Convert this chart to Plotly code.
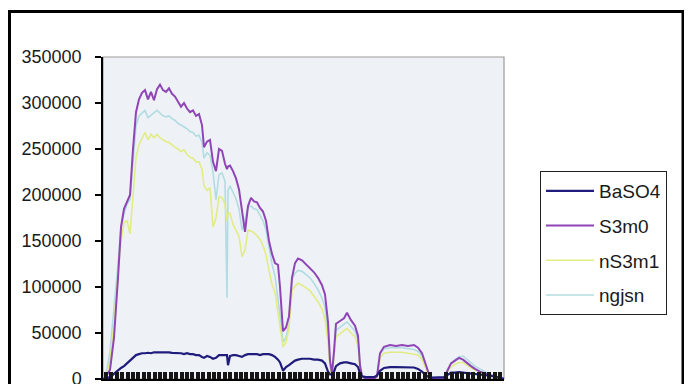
import plotly.graph_objects as go

# wavelength-like category positions (x data)
wavelength = [350, 365, 385, 405, 425, 440, 455, 470, 485, 500, 515, 530, 545, 560, 575, 590, 605, 620, 635, 650,
              665, 680, 695, 710, 725, 740, 755, 770, 785, 800, 815, 830, 845, 855, 870, 885, 900, 915, 930, 945,
              960, 970, 975, 985, 1000, 1015, 1030, 1045, 1060, 1075, 1090, 1105, 1120, 1135, 1150, 1165, 1180, 1195, 1210, 1225,
              1235, 1250, 1265, 1280, 1295, 1310, 1325, 1345, 1365, 1385, 1405, 1425, 1445, 1460, 1475, 1485, 1495, 1505, 1515, 1535,
              1555, 1570, 1590, 1610, 1625, 1635, 1645, 1665, 1685, 1705, 1720, 1735, 1755, 1785, 1815, 1845, 1875, 1905, 1925, 1945,
              1965, 1980, 1995, 2015, 2035, 2055, 2070, 2090, 2110, 2130, 2150, 2170, 2190, 2210, 2235, 2260, 2285, 2310, 2335, 2355]

baso4 = [0, 500, 2000, 6000, 9000, 12000, 14000, 17000, 20000, 23000, 26000, 27000, 28000, 28000, 28500, 28000, 29000, 29000, 29000, 29500,
         29000, 29000, 28500, 28500, 28000, 28000, 27000, 28000, 27000, 27000, 26000, 26000, 24000, 23000, 25000, 24000, 22000, 23000, 26000, 26000,
         26000, 26000, 15000, 25000, 26000, 26000, 25000, 24000, 26000, 27000, 27000, 27000, 27000, 26000, 27000, 27000, 27000, 26000, 24000, 21000,
         18000, 9000, 13000, 15000, 18000, 20000, 21000, 22000, 22000, 22000, 21000, 21000, 20000, 17000, 8000, 5000, 5000, 8000, 14000, 17000,
         18000, 18000, 17000, 16000, 13000, 6000, 3000, 2000, 2000, 2000, 4000, 9000, 12000, 13000, 13000, 13000, 13000, 12500, 11000, 8000,
         4000, 2000, 1500, 1500, 1500, 2000, 4000, 7000, 7000, 7500, 7000, 6500, 6000, 6000, 5000, 4000, 3500, 2500, 1500, 0]

s3m0 = [0, 3000, 10000, 45000, 110000, 165000, 185000, 192000, 200000, 250000, 290000, 304000, 311000, 314000, 304000, 312000, 303000, 315000, 320000, 314000,
        312000, 316000, 310000, 307000, 302000, 296000, 300000, 294000, 290000, 292000, 286000, 288000, 276000, 252000, 258000, 260000, 236000, 226000, 250000, 248000,
        234000, 228000, 231000, 232000, 226000, 218000, 206000, 184000, 160000, 188000, 197000, 193000, 192000, 186000, 182000, 172000, 150000, 136000, 126000, 124000,
        100000, 52000, 56000, 68000, 110000, 126000, 131000, 129000, 125000, 121000, 116000, 110000, 102000, 92000, 62000, 20000, 6000, 30000, 60000, 63000,
        66000, 72000, 64000, 58000, 47000, 15000, 3000, 0, 0, 0, 3000, 28000, 35000, 37000, 36000, 37000, 36000, 37000, 34000, 28000,
        15000, 5000, 1000, 0, 0, 1000, 8000, 17000, 20000, 23000, 21000, 17000, 14000, 11000, 8000, 6000, 4000, 2500, 1000, 0]

ns3m1 = [0, 3000, 20000, 60000, 115000, 150000, 170000, 172000, 158000, 200000, 240000, 255000, 262000, 268000, 260000, 266000, 262000, 266000, 262000, 260000,
         258000, 257000, 254000, 252000, 250000, 247000, 249000, 244000, 241000, 240000, 236000, 236000, 228000, 210000, 205000, 208000, 165000, 175000, 198000, 197000,
         190000, 172000, 180000, 180000, 168000, 162000, 155000, 133000, 140000, 162000, 161000, 159000, 156000, 152000, 145000, 135000, 118000, 103000, 94000, 70000,
         55000, 35000, 40000, 55000, 96000, 101000, 104000, 102000, 99000, 96000, 90000, 84000, 76000, 65000, 40000, 12000, 4000, 25000, 46000, 49000,
         52000, 55000, 50000, 46000, 36000, 11000, 2000, 0, 0, 0, 2000, 23000, 28000, 29000, 29000, 29000, 28000, 27000, 26000, 21000,
         12000, 4000, 1000, 0, 0, 1000, 8000, 13000, 16000, 18000, 18000, 15000, 12000, 10000, 8000, 6000, 4000, 2000, 1000, 0]

ngjsn = [0, 5000, 30000, 75000, 125000, 165000, 180000, 190000, 195000, 235000, 275000, 286000, 289000, 292000, 284000, 287000, 290000, 292000, 289000, 286000,
         285000, 286000, 283000, 281000, 278000, 276000, 274000, 272000, 269000, 268000, 264000, 265000, 257000, 240000, 246000, 243000, 225000, 195000, 222000, 224000,
         215000, 88000, 205000, 210000, 203000, 196000, 185000, 162000, 172000, 187000, 188000, 185000, 184000, 178000, 172000, 162000, 143000, 125000, 112000, 90000,
         70000, 40000, 45000, 60000, 108000, 115000, 118000, 117000, 113000, 110000, 104000, 97000, 88000, 78000, 50000, 15000, 5000, 28000, 53000, 56000,
         59000, 62000, 57000, 52000, 42000, 13000, 2000, 0, 0, 0, 3000, 27000, 33000, 34000, 34000, 34000, 33000, 32000, 30000, 25000,
         14000, 5000, 1000, 0, 0, 1000, 10000, 17000, 21000, 24000, 25000, 21000, 17000, 14000, 11000, 8000, 5000, 3000, 1500, 0]

series_names = ["BaSO4", "S3m0", "nS3m1", "ngjsn"]
y_ticks = [0, 50000, 100000, 150000, 200000, 250000, 300000, 350000]

colors = ["#201c7c", "#8f45b6", "#e2ec84", "#b2dce2"]
widths = [2.2, 2.0, 1.6, 1.6]
all_series = [baso4, s3m0, ns3m1, ngjsn]

fig = go.Figure()
# draw order: light ones first so dark lines sit on top; legend order kept via legendrank
draw_order = [3, 2, 1, 0]
for i in draw_order:
    fig.add_trace(go.Scatter(
        x=wavelength, y=all_series[i], mode="lines", name=series_names[i],
        line=dict(color=colors[i], width=widths[i]),
        legendrank=i + 1, legendgroup=series_names[i],
    ))

# dense category tick marks along the x axis (skipping the empty bands)
tick_positions = [w for w in range(365, 2356, 27) if not (1650 <= w <= 1720 or 2000 <= w <= 2060)]

# the page body has an 8px margin, so the figure is drawn 8px in from the window corner;
# the chart continues below the visible window (x labels are cut off in the original)
OFF = 8
W, H = 692 - OFF, 410 - OFF
PL, PT, PR, PB = 103, 57, 504, 379          # plot-area edges in window pixels
L, T = PL - OFF, PT - OFF
R, B = W - (PR - OFF), H - (PB - OFF)
pw, ph = PR - PL, PB - PT


def px(xw):
    return (xw - PL) / pw


def py(yw):
    return (PB - yw) / ph


fig.update_layout(
    width=W, height=H,
    margin=dict(l=L, r=R, t=T, b=B, pad=0),
    paper_bgcolor="white",
    plot_bgcolor="#eef2f7",
    font=dict(family="Liberation Sans, Arial, sans-serif", size=18, color="#1a1a1a"),
    showlegend=True,
    legend=dict(
        x=px(540), y=py(171), xanchor="left", yanchor="top",
        bgcolor="white", bordercolor="#222222", borderwidth=1,
        font=dict(size=19, color="#1a1a1a"),
        traceorder="grouped", tracegroupgap=7,
        itemwidth=48,
    ),
    xaxis=dict(
        range=[350, 2355], showgrid=False, zeroline=False,
        showline=True, linecolor="black", linewidth=1.5,
        ticks="inside", tickvals=tick_positions, ticklen=7, tickwidth=3.5,
        tickcolor="#151515", showticklabels=False,
    ),
    xaxis2=dict(
        range=[350, 2355], overlaying="x", side="bottom", showgrid=False, zeroline=False,
        showline=False, ticks="outside", tickvals=tick_positions, ticklen=6, tickwidth=3.5,
        tickcolor="#151515", showticklabels=False,
    ),
    yaxis=dict(
        range=[-1, 350000], tickvals=y_ticks, ticktext=[str(v) for v in y_ticks],
        showgrid=False, zeroline=False, showline=True, linecolor="black", linewidth=1.5,
        ticks="outside", ticklen=6, tickwidth=1.5, tickcolor="black",
        ticklabelstandoff=10, tickfont=dict(size=18),
    ),
    shapes=[
        # plot-area frame (grey top/right edges)
        dict(type="rect", xref="paper", yref="paper", x0=0, x1=1, y0=0, y1=1,
             line=dict(color="#9a9a9a", width=1.2), layer="below"),
        # outer chart border
        dict(type="rect", xref="paper", yref="paper",
             x0=px(9.5), x1=px(683), y0=-0.08, y1=py(11.5),
             line=dict(color="black", width=3)),
    ],
)

fig.write_html("out.html")
